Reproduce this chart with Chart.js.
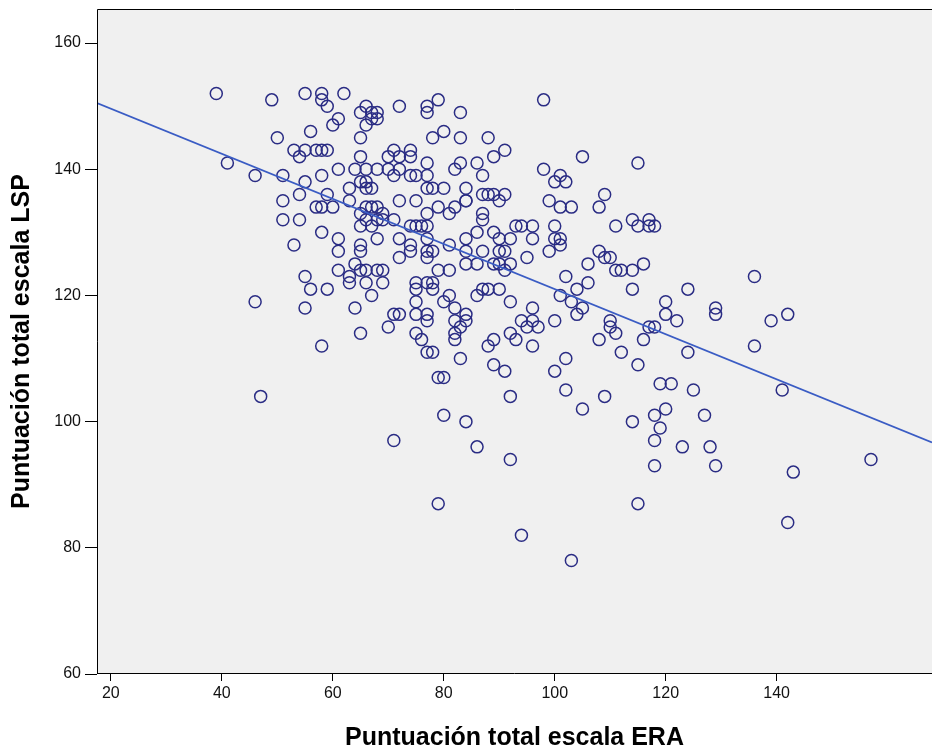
<!DOCTYPE html>
<html><head><meta charset="utf-8">
<script src="https://cdn.jsdelivr.net/npm/chart.js@4"></script>
<style>html,body{margin:0;padding:0;background:#fff}#wrap{width:932px;height:753px}</style>
</head><body><div id="wrap"><canvas id="c" width="932" height="753"></canvas></div>
<script>
const eraScores = [
39,49,55,58,58,59,62,66,65,67,68,67,68,72,77,77,61,60,66,56,50,65,53,54,55,57,58,59,65,70,71,72,74,74,41,46,51,55,58,61,64,66,68,70,72,65,66,71,74,75,63,66,67,51,54,57,58,59,63,72,75,
79,83,98,80,78,83,88,91,89,77,82,83,86,87,98,100,101,102,105,115,77,77,78,80,84,87,88,89,91,90,84,99,109,108,79,82,101,103,
60,51,54,58,53,61,61,65,65,68,65,66,67,68,66,67,68,69,71,69,65,77,74,75,76,77,72,74,74,72,77,77,77,61,63,63,64,65,66,66,68,69,69,67,55,56,59,46,55,64,75,77,75,75,71,72,75,77,77,
81,84,87,87,93,94,96,100,111,114,115,117,117,84,86,89,90,92,96,100,101,101,78,81,84,87,90,91,95,99,79,81,84,86,89,90,91,92,108,109,110,106,111,112,114,116,102,104,106,114,78,78,80,81,86,87,88,90,92,82,84,82,96,94,96,100,101,103,104,105,110,117,
118,124,136,120,120,122,118,129,129,139,142,
47,58,65,70,75,76,77,71,
78,82,82,83,84,83,79,80,88,89,89,91,92,93,95,96,97,92,80,84,86,100,102,102,105,109,108,111,110,112,115,116,114,119,118,119,118,
124,136,121,125,120,127,123,128,141,
92,79,94,103,115,118,
157,142,143,129
];
const lspScores = [
152,151,152,152,151,150,152,150,149,149,149,148,148,150,150,149,148,147,147,146,145,145,143,142,143,143,143,143,142,142,143,142,143,142,141,139,139,138,139,140,140,140,140,140,140,138,138,139,139,139,137,137,137,135,136,134,134,136,135,135,135,
151,149,151,146,145,145,145,143,142,141,140,141,141,139,140,138,139,138,142,141,139,137,137,137,137,136,136,136,136,135,135,135,136,134,134,134,134,134,
134,132,132,130,128,129,127,128,127,129,133,134,134,134,132,131,132,132,132,133,131,133,131,131,131,131,129,128,127,126,129,127,126,124,123,122,125,124,122,124,124,124,122,120,123,121,121,119,118,118,122,122,121,119,117,117,117,117,116,
133,135,133,132,131,131,131,131,131,132,131,132,131,129,130,130,129,129,129,129,129,128,127,128,127,127,127,127,126,127,124,124,125,125,125,125,124,125,127,126,126,125,124,124,124,125,123,121,122,121,122,121,119,120,120,121,121,121,119,118,117,116,118,116,116,116,120,119,117,118,116,115,
131,121,123,119,117,116,115,118,117,116,117,
104,112,114,115,114,113,111,97,
111,114,113,115,116,110,107,107,112,113,109,108,114,113,115,112,115,104,101,100,96,108,110,105,102,104,113,114,115,111,109,113,100,106,101,99,97,
111,112,106,105,102,101,96,96,105,
94,87,82,78,87,93,
94,84,92,93
];
const fitLineX = [17.5, 168];
const fitLineY = [150.5, 96.7];
const xTickValues = [20, 40, 60, 80, 100, 120, 140];
const yTickValues = [60, 80, 100, 120, 140, 160];
const xLimits = [17.5, 168];
const yLimits = [60, 165.4];
const xTitle = 'Puntuación total escala ERA';
const yTitle = 'Puntuación total escala LSP';

const points = eraScores.map((x, i) => ({x: x, y: lspScores[i]}));
const fitLine = fitLineX.map((x, i) => ({x: x, y: fitLineY[i]}));

const frame = {
  id: 'frame',
  beforeDatasetsDraw(chart) {
    const {ctx, chartArea: a} = chart;
    ctx.save();
    ctx.fillStyle = '#f0f0f0';
    ctx.fillRect(a.left, a.top, a.right - a.left, a.bottom - a.top);
    ctx.restore();
  },
  afterDraw(chart) {
    const {ctx, chartArea: a} = chart;
    ctx.save();
    ctx.strokeStyle = '#000';
    ctx.lineWidth = 1;
    ctx.beginPath();
    ctx.moveTo(a.left + 0.5, a.bottom);
    ctx.lineTo(a.left + 0.5, a.top + 0.5);
    ctx.lineTo(a.right, a.top + 0.5);
    ctx.moveTo(a.left, a.bottom - 0.5);
    ctx.lineTo(a.right, a.bottom - 0.5);
    ctx.stroke();
    ctx.restore();
  }
};

const noPad = s => { s.paddingTop = 0; s.paddingBottom = 0; s.paddingLeft = 0; s.paddingRight = 0; };
const tickFont = {family: 'Liberation Sans, Arial, sans-serif', size: 16};
const titleFont = {family: 'Liberation Sans, Arial, sans-serif', size: 25, weight: 'bold'};

new Chart(document.getElementById('c'), {
  data: {
    datasets: [
      {type: 'line', data: fitLine, borderColor: '#3a5cc4', borderWidth: 1.8, pointRadius: 0, fill: false, order: 0},
      {type: 'scatter', data: points, pointStyle: 'circle', pointRadius: 6, borderWidth: 1.5,
       borderColor: '#2a2c84', backgroundColor: 'rgba(0,0,0,0)', order: 1}
    ]
  },
  options: {
    responsive: false,
    animation: false,
    devicePixelRatio: 1,
    layout: {autoPadding: false, padding: {top: 9, right: 0, left: 0, bottom: 0}},
    plugins: {legend: {display: false}, tooltip: {enabled: false}},
    scales: {
      x: {
        type: 'linear', min: xLimits[0], max: xLimits[1],
        afterBuildTicks: s => { s.ticks = xTickValues.map(v => ({value: v})); },
        afterFit: s => { s.height = 79; noPad(s); },
        grid: {drawOnChartArea: false, drawTicks: true, tickLength: 7, color: '#000'},
        border: {display: false},
        ticks: {color: '#111', font: tickFont, padding: 3, maxRotation: 0, autoSkip: false},
        title: {display: true, text: xTitle, color: '#000', font: titleFont, padding: {top: 0, bottom: 0}}
      },
      y: {
        type: 'linear', min: yLimits[0], max: yLimits[1],
        afterBuildTicks: s => { s.ticks = yTickValues.map(v => ({value: v})); },
        afterFit: s => { s.width = 97; noPad(s); },
        grid: {drawOnChartArea: false, drawTicks: true, tickLength: 12, color: '#000'},
        border: {display: false},
        ticks: {color: '#111', font: tickFont, padding: 4, autoSkip: false},
        title: {display: true, text: yTitle, color: '#000', font: titleFont, padding: {top: 7, bottom: 0}}
      }
    }
  },
  plugins: [frame]
});
</script>
</body></html>
